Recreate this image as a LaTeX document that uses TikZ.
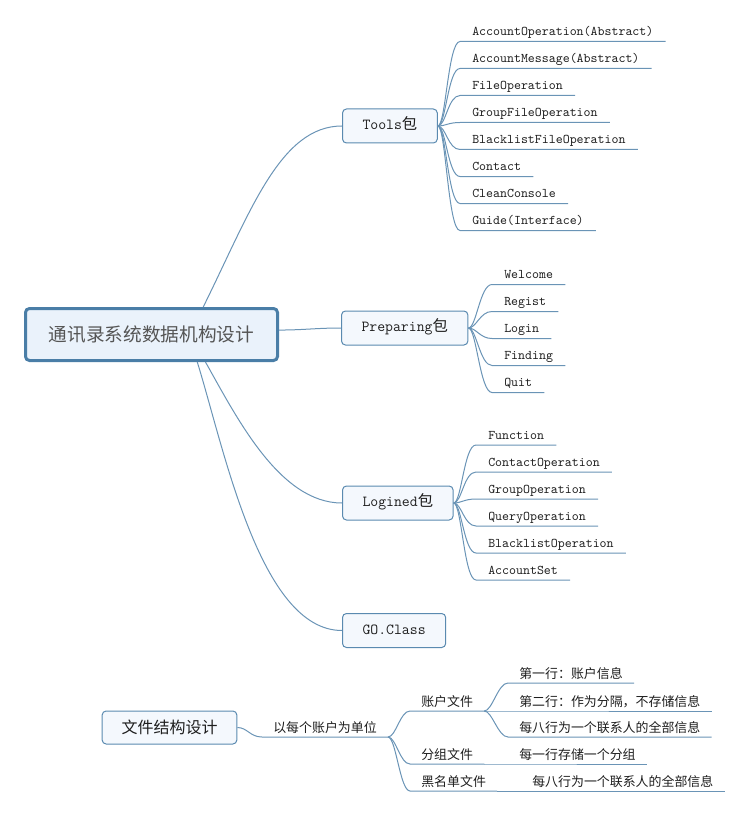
\documentclass[tikz,border=0pt]{standalone}
\usepackage{fontspec}
\newfontfamily\cjk{Noto Sans CJK SC}
\definecolor{rootline}{HTML}{4A7EA7}
\definecolor{rootfill}{HTML}{EAF2FB}
\definecolor{boxline}{HTML}{5A8AB0}
\definecolor{boxfill}{HTML}{F4F8FD}
\definecolor{branchline}{HTML}{6A94B6}
\definecolor{roottext}{HTML}{555555}
\definecolor{leaftext}{HTML}{1E1E1E}

\begin{document}
\begin{tikzpicture}[x=0.75pt,y=-0.75pt,
  root/.style={draw=rootline,fill=rootfill,line width=2.25pt,rounded corners=3pt,minimum width=189pt,minimum height=39pt,font=\cjk\fontsize{14}{16}\selectfont,text=roottext},
  pkg/.style={draw=boxline,fill=boxfill,line width=0.75pt,rounded corners=3pt,anchor=west,minimum height=25.5pt,inner xsep=15pt,text height=7.5pt,text depth=2pt,font=\ttfamily\fontsize{11.5}{13}\selectfont,text=leaftext},
  leaf/.style={anchor=south west,inner xsep=9pt,inner ysep=2pt,text height=7pt,text depth=2pt,font=\ttfamily\fontsize{9.95}{11}\selectfont,text=leaftext},
  cnleaf/.style={anchor=south west,inner xsep=8.25pt,inner ysep=1.5pt,text height=8pt,text depth=2pt,font=\cjk\fontsize{9.7}{12}\selectfont,text=leaftext},
  branch/.style={draw=branchline,line width=0.75pt}]
\useasboundingbox (0,0) rectangle (743,813);

\node[root] (root) at (151.5,334.5) {通讯录系统数据机构设计};
\node[pkg] (tools) at (342,126) {Tools{\cjk 包}};
\node[pkg] (prep) at (341,328) {Preparing{\cjk 包}};
\node[pkg] (login) at (342,503) {Logined{\cjk 包}};
\node[pkg] (go) at (342,630.5) {GO.Class};

\node[leaf] (t1) at (460,41.5) {AccountOperation(Abstract)};
\node[leaf] (t2) at (460,68.5) {AccountMessage(Abstract)};
\node[leaf] (t3) at (460,95.5) {FileOperation};
\node[leaf] (t4) at (460,122.5) {GroupFileOperation};
\node[leaf] (t5) at (460,149.5) {BlacklistFileOperation};
\node[leaf] (t6) at (460,176.5) {Contact};
\node[leaf] (t7) at (460,203.5) {CleanConsole};
\node[leaf] (t8) at (460,230.5) {Guide(Interface)};

\node[leaf] (p1) at (492,284.5) {Welcome};
\node[leaf] (p2) at (492,311.5) {Regist};
\node[leaf] (p3) at (492,338.5) {Login};
\node[leaf] (p4) at (492,365.5) {Finding};
\node[leaf] (p5) at (492,392.5) {Quit};

\node[leaf] (l1) at (476,445) {Function};
\node[leaf] (l2) at (476,472) {ContactOperation};
\node[leaf] (l3) at (476,499) {GroupOperation};
\node[leaf] (l4) at (476,526) {QueryOperation};
\node[leaf] (l5) at (476,553) {BlacklistOperation};
\node[leaf] (l6) at (476,580) {AccountSet};

\draw[branch] (root.28) .. controls +(47,-95) and +(-62,0) .. (tools.west);
\draw[branch] (root.2) to[out=0,in=180] (prep.west);
\draw[branch] (root.-27) .. controls +(32,57) and +(-62,0) .. (login.west);
\draw[branch] (root.-31.5) .. controls +(27,87) and +(-82,0) .. (go.west);

\draw[branch] (tools.east) .. controls +(8,0) and +(-12,0) .. (t1.south west) -- (t1.south east);
\draw[branch] (tools.east) .. controls +(8,0) and +(-12,0) .. (t2.south west) -- (t2.south east);
\draw[branch] (tools.east) .. controls +(8,0) and +(-12,0) .. (t3.south west) -- (t3.south east);
\draw[branch] (tools.east) .. controls +(8,0) and +(-12,0) .. (t4.south west) -- (t4.south east);
\draw[branch] (tools.east) .. controls +(8,0) and +(-12,0) .. (t5.south west) -- (t5.south east);
\draw[branch] (tools.east) .. controls +(8,0) and +(-12,0) .. (t6.south west) -- (t6.south east);
\draw[branch] (tools.east) .. controls +(8,0) and +(-12,0) .. (t7.south west) -- (t7.south east);
\draw[branch] (tools.east) .. controls +(8,0) and +(-12,0) .. (t8.south west) -- (t8.south east);

\draw[branch] (prep.east) .. controls +(8,0) and +(-12,0) .. (p1.south west) -- (p1.south east);
\draw[branch] (prep.east) .. controls +(8,0) and +(-12,0) .. (p2.south west) -- (p2.south east);
\draw[branch] (prep.east) .. controls +(8,0) and +(-12,0) .. (p3.south west) -- (p3.south east);
\draw[branch] (prep.east) .. controls +(8,0) and +(-12,0) .. (p4.south west) -- (p4.south east);
\draw[branch] (prep.east) .. controls +(8,0) and +(-12,0) .. (p5.south west) -- (p5.south east);

\draw[branch] (login.east) .. controls +(8,0) and +(-12,0) .. (l1.south west) -- (l1.south east);
\draw[branch] (login.east) .. controls +(8,0) and +(-12,0) .. (l2.south west) -- (l2.south east);
\draw[branch] (login.east) .. controls +(8,0) and +(-12,0) .. (l3.south west) -- (l3.south east);
\draw[branch] (login.east) .. controls +(8,0) and +(-12,0) .. (l4.south west) -- (l4.south east);
\draw[branch] (login.east) .. controls +(8,0) and +(-12,0) .. (l5.south west) -- (l5.south east);
\draw[branch] (login.east) .. controls +(8,0) and +(-12,0) .. (l6.south west) -- (l6.south east);

\node[draw=boxline,fill=boxfill,line width=0.75pt,rounded corners=3pt,minimum width=101pt,minimum height=24.75pt,font=\cjk\fontsize{12}{14}\selectfont,text=leaftext] (files) at (169.5,727.5) {文件结构设计};
\node[cnleaf] (unit) at (262,737) {以每个账户为单位};
\node[cnleaf] (acct) at (410,711) {账户文件};
\node[cnleaf] (grp) at (410,764) {分组文件};
\node[cnleaf] (black) at (410,791) {黑名单文件};
\node[cnleaf] (row1) at (508,683) {第一行：账户信息};
\node[cnleaf] (row2) at (508,711) {第二行：作为分隔，不存储信息};
\node[cnleaf] (row3) at (508,737) {每八行为一个联系人的全部信息};
\node[cnleaf] (grprow) at (508,764) {每一行存储一个分组};
\node[cnleaf] (blackrow) at (521,791) {每八行为一个联系人的全部信息};

\draw[branch] (files.east) .. controls +(10,0) and +(-12,0) .. (unit.south west) -- (unit.south east);
\draw[branch] (unit.south east) .. controls +(8,0) and +(-10,0) .. (acct.south west) -- (acct.south east);
\draw[branch] (unit.south east) .. controls +(8,0) and +(-10,0) .. (grp.south west) -- (grp.south east);
\draw[branch] (unit.south east) .. controls +(8,0) and +(-10,0) .. (black.south west) -- (black.south east);
\draw[branch] (acct.south east) .. controls +(8,0) and +(-10,0) .. (row1.south west) -- (row1.south east);
\draw[branch] (acct.south east) -- (row2.south west) -- (row2.south east);
\draw[branch] (acct.south east) .. controls +(8,0) and +(-10,0) .. (row3.south west) -- (row3.south east);
\draw[branch] (grp.south east) -- (grprow.south west) -- (grprow.south east);
\draw[branch] (black.south east) -- (blackrow.south west) -- (blackrow.south east);
\end{tikzpicture}
\end{document}
